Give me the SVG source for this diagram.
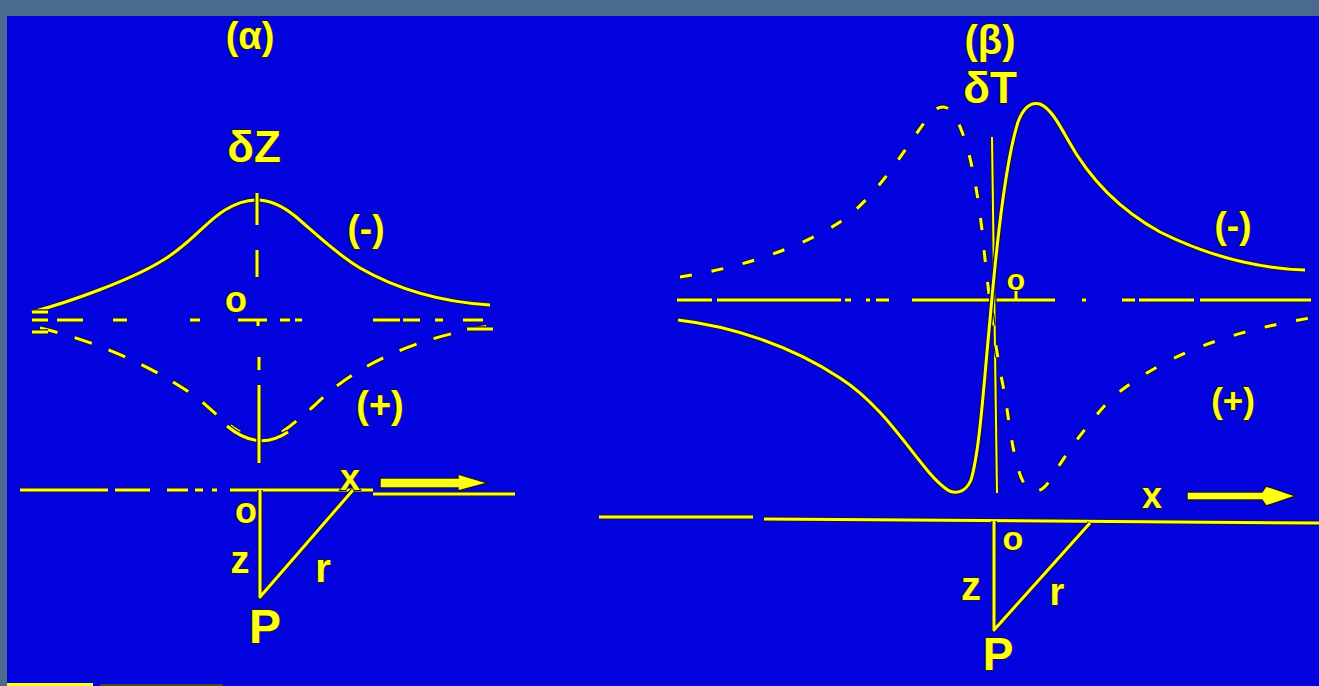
<svg xmlns="http://www.w3.org/2000/svg" xmlns:xlink="http://www.w3.org/1999/xlink" width="1319" height="686" viewBox="0 0 1319 686">
<style>
.ol{fill:none;stroke:#14143c;stroke-width:5.5;stroke-linecap:butt;stroke-linejoin:round}
.yl{fill:none;stroke:#ffff14;stroke-width:3;stroke-linecap:butt;stroke-linejoin:round}
.thin{stroke-width:2}
.thino{stroke-width:4.5}
.dA{stroke-dasharray:18 18}
.dB{stroke-dasharray:12 20}
.lab{font-family:"Liberation Sans","DejaVu Sans",sans-serif;font-weight:bold;fill:#ffff14;stroke:#14143c;stroke-width:2;paint-order:stroke;text-anchor:middle}
.fillY{fill:#ffff14;stroke:#14143c;stroke-width:1.5}
</style>
<defs>
<path id="aTop" d="M32,312 C70,302 130,280 160,262 C190,245 205,222 225,210 C238,202 248,200 257,200 C268,200 280,204 295,216 C315,233 335,253 360,268 C395,288 440,302 490,305"/>
<path id="aBot" d="M40,328 C100,342 160,370 200,400 C218,416 232,428 240,432 M282,432 C292,425 300,418 315,405 C345,375 400,340 490,326"/>
<path id="aArc" d="M227,426 Q258,452 288,432"/>
<path id="aVert" d="M257,193 V225 M257,250 V277 M259,357 V370 M259,385 V463"/>
<path id="aAxis" d="M32,320H48 M57,320H83 M113,320H127 M190,320H200 M238,320H267 M280,320H290 M295,320H302 M373,320H400 M403,320H420 M435,320H443 M463,320H483 M258,320V326 M32,312H48 M32,332H48 M467,329H493"/>
<path id="aBase" d="M20,490H108 M115,490H150 M167,490H188 M195,490H203 M212,490H217 M230,490H373 M373,494H515"/>
<path id="aTri" d="M260,490 V597 L353,490"/>
<path id="bSolid" d="M678,320 C730,326 790,345 840,378 C890,410 920,470 945,488 C953,495 965,494 971,480 C980,450 984,380 990,320 C996,250 1006,160 1018,122 C1024,106 1032,102 1040,104 C1050,108 1058,122 1068,140 C1090,180 1120,210 1160,232 C1200,252 1250,268 1305,270"/>
<path id="bDash" d="M680,277 C740,268 800,248 840,222 C880,195 910,140 930,115 C937,106 945,104 952,112 C965,130 975,170 982,230 C988,290 995,350 1005,395 C1010,430 1015,470 1025,485 C1032,495 1042,493 1050,480 C1065,455 1090,420 1113,397 C1170,350 1240,330 1310,318"/>
<path id="bVert" d="M992,137 L997,493"/>
<path id="bAxis" d="M677,300H712 M717,300H841 M845,300H851 M866,300H870 M876,300H889 M912,300H1055 M1082,300H1086 M1122,300H1135 M1139,300H1194 M1200,300H1311 M1016,290V300"/>
<path id="bBase" d="M599,517H753 M764,519 L1319,523"/>
<path id="bTri" d="M994,521 V630 L1090,523"/>
</defs>
<rect x="0" y="0" width="1319" height="686" fill="#4a6a8e"/>
<rect x="7" y="16" width="1312" height="670" fill="#0303e0"/>
<rect x="7" y="683" width="86" height="3" fill="#ffff14"/>
<rect x="100" y="684" width="123" height="2" fill="#4a4a20"/>

<g id="connectors">
<g id="panel-a-lines">
<use href="#aTop" class="ol"/><use href="#aTop" class="yl"/>
<use href="#aBot" class="ol dA"/><use href="#aBot" class="yl dA"/>
<use href="#aArc" class="ol"/><use href="#aArc" class="yl"/>
<use href="#aVert" class="ol"/><use href="#aVert" class="yl"/>
<use href="#aAxis" class="ol"/><use href="#aAxis" class="yl"/>
<use href="#aBase" class="ol"/><use href="#aBase" class="yl"/>
<use href="#aTri" class="ol"/><use href="#aTri" class="yl"/>
<polygon class="fillY" points="380,478 458,478 458,474 488,483 458,491 458,488 380,488"/>
</g>
<g id="panel-b-lines">
<use href="#bAxis" class="ol"/><use href="#bAxis" class="yl"/>
<use href="#bVert" class="ol thino"/><use href="#bVert" class="yl thin"/>
<use href="#bDash" class="ol dB"/><use href="#bDash" class="yl dB"/>
<use href="#bSolid" class="ol"/><use href="#bSolid" class="yl"/>
<use href="#bBase" class="ol"/><use href="#bBase" class="yl"/>
<use href="#bTri" class="ol"/><use href="#bTri" class="yl"/>
<polygon class="fillY" points="1187,492 1262,492 1266,486 1296,496 1266,506 1262,500 1187,500"/>
</g>
</g>

<g id="panel-a-labels">
<text id="a-title" class="lab" x="250" y="49" font-size="38">(α)</text>
<text id="a-dz" class="lab" x="254" y="162" font-size="44">δZ</text>
<text id="a-minus" class="lab" x="366" y="241" font-size="37">(-)</text>
<text id="a-o1" class="lab" x="236" y="312" font-size="36">o</text>
<text id="a-plus" class="lab" x="380" y="418" font-size="38">(+)</text>
<text id="a-x" class="lab" x="350" y="490" font-size="36">x</text>
<text id="a-o2" class="lab" x="246" y="523" font-size="36">o</text>
<text id="a-z" class="lab" x="240" y="573" font-size="38">z</text>
<text id="a-r" class="lab" x="323" y="582" font-size="40">r</text>
<text id="a-P" class="lab" x="265" y="643" font-size="48">P</text>
</g>

<g id="panel-b-labels">
<text id="b-title" class="lab" x="990" y="54" font-size="40">(β)</text>
<text id="b-dt" class="lab" x="990" y="103" font-size="44">δT</text>
<text id="b-minus" class="lab" x="1233" y="238" font-size="37">(-)</text>
<text id="b-o1" class="lab" x="1016" y="290" font-size="30">o</text>
<text id="b-plus" class="lab" x="1233" y="413" font-size="35">(+)</text>
<text id="b-x" class="lab" x="1152" y="508" font-size="36">x</text>
<text id="b-o2" class="lab" x="1013" y="550" font-size="34">o</text>
<text id="b-z" class="lab" x="971" y="600" font-size="40">z</text>
<text id="b-r" class="lab" x="1057" y="605" font-size="38">r</text>
<text id="b-P" class="lab" x="998" y="670" font-size="46">P</text>
</g>
</svg>
